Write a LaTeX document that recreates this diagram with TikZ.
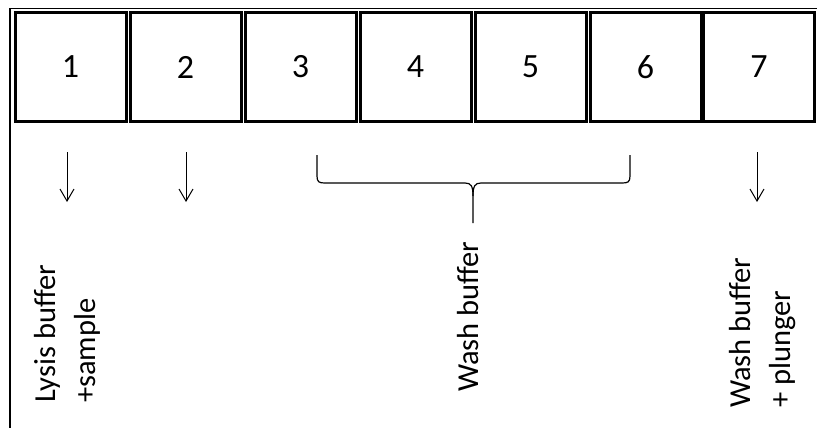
\documentclass[tikz,border=0pt]{standalone}
\usepackage{fontspec}
\setmainfont{Carlito}
\usetikzlibrary{arrows.meta}
\tikzset{
  well/.style={draw, line width=3pt, minimum width=111pt, minimum height=109pt, inner sep=0pt, font=\fontsize{34}{40}\selectfont},
  lab/.style={rotate=90, anchor=base west, inner sep=0pt, font=\fontsize{30.5}{40}\selectfont},
  arr/.style={line width=1pt, -{Straight Barb[length=12pt, width=14pt]}},
  brace/.style={line width=1.2pt}
}
\begin{document}
\begin{tikzpicture}[x=1pt, y=-1pt]
\useasboundingbox (0,0) rectangle (817,428);
\clip (0,0) rectangle (817,428);
\draw[line width=1.6pt] (10,440) -- (10,8.5) -- (830,8.5);
\foreach \k/\cx in {1/70.5,2/185.5,3/300.5,4/415.5,5/530.5,6/645.5,7/759}
  \node[well] (w\k) at (\cx,67) {\k};
\coordinate (a1s) at (67,152); \coordinate (a1e) at (67,202);
\coordinate (a2s) at (186,152); \coordinate (a2e) at (186,202);
\coordinate (a7s) at (757,152); \coordinate (a7e) at (757,202);
\draw[arr] (a1s) -- (a1e);
\draw[arr] (a2s) -- (a2e);
\draw[arr] (a7s) -- (a7e);
\draw[brace] (317,155) -- (317,176) .. controls (317,182) and (319,183) .. (325,183) -- (465,183) .. controls (471,183) and (473,186) .. (473,196) -- (473,223);
\draw[brace] (630,155) -- (630,176) .. controls (630,182) and (628,183) .. (622,183) -- (481,183) .. controls (475,183) and (473,186) .. (473,196);
\node[lab] (l1) at (55,403) {\renewcommand{\arraystretch}{1}\begin{tabular}[t]{@{}l@{}}Lysis buffer\\+sample\end{tabular}};
\node[lab] (l2) at (478,392) {Wash buffer};
\node[lab] (l3) at (750,408) {\renewcommand{\arraystretch}{1}\begin{tabular}[t]{@{}l@{}}Wash buffer\\+ plunger\end{tabular}};
\end{tikzpicture}
\end{document}
